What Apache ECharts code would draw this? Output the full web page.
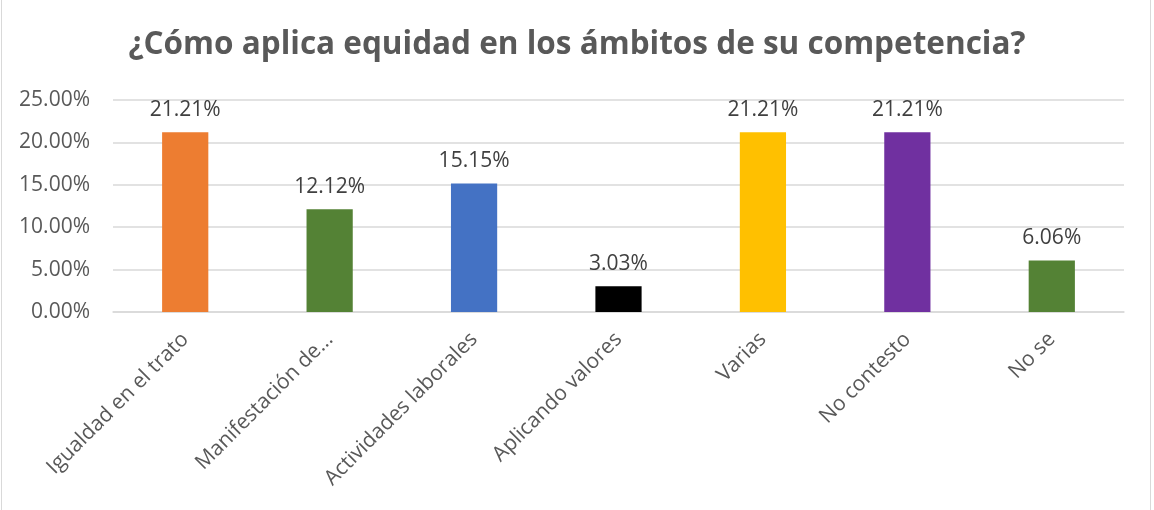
<!DOCTYPE html>
<html>
<head>
<meta charset="utf-8">
<script src="https://cdn.jsdelivr.net/npm/echarts@6/dist/echarts.min.js"></script>
<style>
html,body{margin:0;padding:0;background:#fff;}
#c{position:absolute;left:0;top:0;width:1154px;height:510px;}
#frame{position:absolute;left:1px;top:-2px;width:1150px;height:513px;border:1px solid #d9d9d9;box-sizing:border-box;pointer-events:none;}
</style>
</head>
<body>
<div id="c"></div>
<div id="frame"></div>
<script>
const titleText = '¿Cómo aplica equidad en los ámbitos de su competencia?';
const categories = ['Igualdad en el trato', 'Manifestación de...', 'Actividades laborales', 'Aplicando valores', 'Varias', 'No contesto', 'No se'];
const values = [21.21, 12.12, 15.15, 3.03, 21.21, 21.21, 6.06];
const barColors = ['#ED7D31', '#548235', '#4472C4', '#000000', '#FFC000', '#7030A0', '#548235'];
const yTicks = [0, 5, 10, 15, 20, 25];

const chart = echarts.init(document.getElementById('c'), null, {renderer: 'canvas'});
chart.setOption({
  animation: false,
  backgroundColor: '#ffffff',
  title: {
    text: titleText,
    left: 'center',
    top: 24,
    textStyle: {fontFamily: 'Open Sans', fontWeight: 'bold', fontSize: 31.5, color: '#595959'}
  },
  grid: {left: 113, right: 30, top: 100, bottom: 198, containLabel: false},
  xAxis: {
    type: 'category',
    data: categories,
    axisLine: {show: true, lineStyle: {color: '#d9d9d9', width: 1.5}},
    axisTick: {show: false},
    axisLabel: {rotate: 45, margin: 24, interval: 0, fontFamily: 'Open Sans', fontSize: 21, color: '#595959'}
  },
  yAxis: {
    type: 'value',
    min: yTicks[0],
    max: yTicks[yTicks.length - 1],
    interval: 5,
    axisLine: {show: false},
    axisTick: {show: false},
    splitLine: {lineStyle: {color: '#d9d9d9', width: 1.5}},
    axisLabel: {margin: 23, fontFamily: 'Open Sans', fontSize: 21, color: '#595959',
      formatter: v => v.toFixed(2) + '%'}
  },
  series: [{
    type: 'bar',
    barWidth: '32%',
    data: values.map((v, i) => ({value: v, itemStyle: {color: barColors[i]}})),
    label: {show: true, position: 'top', distance: 12, fontFamily: 'Open Sans', fontSize: 21, color: '#404040',
      formatter: p => p.value.toFixed(2) + '%'}
  }]
});
</script>
</body>
</html>
